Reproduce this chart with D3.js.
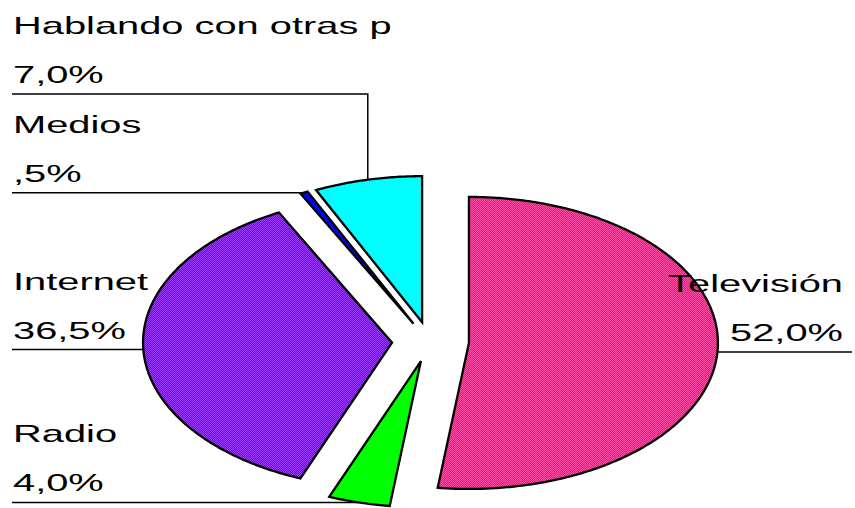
<!DOCTYPE html>
<html>
<head>
<meta charset="utf-8">
<script src="https://cdn.jsdelivr.net/npm/d3@7"></script>
<style>
  body { margin: 0; background: #fff; }
  text { font-family: "Liberation Sans", Arial, sans-serif; font-size: 24px; fill: #000; }
</style>
</head>
<body>
<div class="chart-area"></div>
<script>
const width = 855
const height = 508

// data, clockwise from 12 o'clock
const categories = ["Televisión", "Radio", "Internet", "Medios", "Hablando con otras p"]
const values = [52.0, 4.0, 36.5, 0.5, 7.0]
const valueLabels = ["52,0%", "4,0%", "36,5%", ",5%", "7,0%"]

const fills = ["url(#pinkCheck)", "#00ff00", "url(#purpleCheck)", "#0000ff", "#00ffff"]

// pie is stretched into an ellipse
const cx = 430.5, cy = 341.7
const rx = 249, ry = 146
const ex = 38.5, ey = 20   // explode offset
const sx = 1.66            // horizontal stretch of the text

const svg = d3.select(".chart-area").append("svg")
    .attr("width", width)
    .attr("height", height)
    .attr("viewBox", [0, 0, width, height])

const defs = svg.append("defs")
function checker(id, c1, c2) {
    const p = defs.append("pattern")
        .attr("id", id)
        .attr("patternUnits", "userSpaceOnUse")
        .attr("width", 2).attr("height", 2)
    p.append("rect").attr("width", 2).attr("height", 2).attr("fill", c1)
    p.append("rect").attr("width", 1).attr("height", 1).attr("fill", c2)
    p.append("rect").attr("x", 1).attr("y", 1).attr("width", 1).attr("height", 1).attr("fill", c2)
}
checker("pinkCheck", "#f5107f", "#ff4da6")
checker("purpleCheck", "#7400f5", "#9c3cff")

const pie = d3.pie().sort(null).value(d => d)
const arcs = pie(values).map((a, i) => {
    const mid = (a.startAngle + a.endAngle) / 2
    return {
        ...a,
        i: i,
        mid: mid,
        ox: cx + ex * Math.sin(mid),
        oy: cy - ey * Math.cos(mid)
    }
})

// point on the ellipse for a slice at angle t
const pt = (d, t) => [d.ox + rx * Math.sin(t), d.oy - ry * Math.cos(t)]

const line = d3.line()
function slicePath(d) {
    const n = Math.max(2, Math.ceil((d.endAngle - d.startAngle) / 0.01))
    const pts = [[d.ox, d.oy]]
    d3.range(n + 1).forEach(k => {
        const t = d.startAngle + (d.endAngle - d.startAngle) * k / n
        pts.push(pt(d, t))
    })
    return line(pts) + "Z"
}

svg.selectAll("path.slice")
    .data(arcs)
    .enter()
    .append("path")
    .attr("class", "slice")
    .attr("d", slicePath)
    .attr("fill", d => fills[d.i])
    .attr("stroke", "#000")
    .attr("stroke-width", 2.3)
    .attr("stroke-linejoin", "miter")

// labels: text sits on the left or right, leader runs to the slice middle
const labelX = [852, 12, 12, 12, 12]
const labelAnchor = ["end", "start", "start", "start", "start"]
const elbowY = [null, null, null, null, 94]

arcs.forEach(d => {
    const [mx, my] = pt(d, d.mid)
    const ly = elbowY[d.i] != null ? elbowY[d.i] : my
    const g = svg.append("g")
    let pts
    if (elbowY[d.i] != null) pts = [[labelX[d.i], ly], [mx, ly], [mx, my]]
    else pts = [[labelX[d.i], ly], [mx, ly]]
    g.append("path")
        .attr("d", line(pts))
        .attr("fill", "none")
        .attr("stroke", "#000")
        .attr("stroke-width", 1.5)

    const tx = labelAnchor[d.i] === "end" ? labelX[d.i] - 9 : labelX[d.i] + 1
    g.append("text")
        .attr("transform", `translate(${tx},${ly - 60}) scale(${sx},1)`)
        .attr("text-anchor", labelAnchor[d.i])
        .text(categories[d.i])
    g.append("text")
        .attr("transform", `translate(${tx},${ly - 11}) scale(${sx},1)`)
        .attr("text-anchor", labelAnchor[d.i])
        .text(valueLabels[d.i])
})
</script>
</body>
</html>
